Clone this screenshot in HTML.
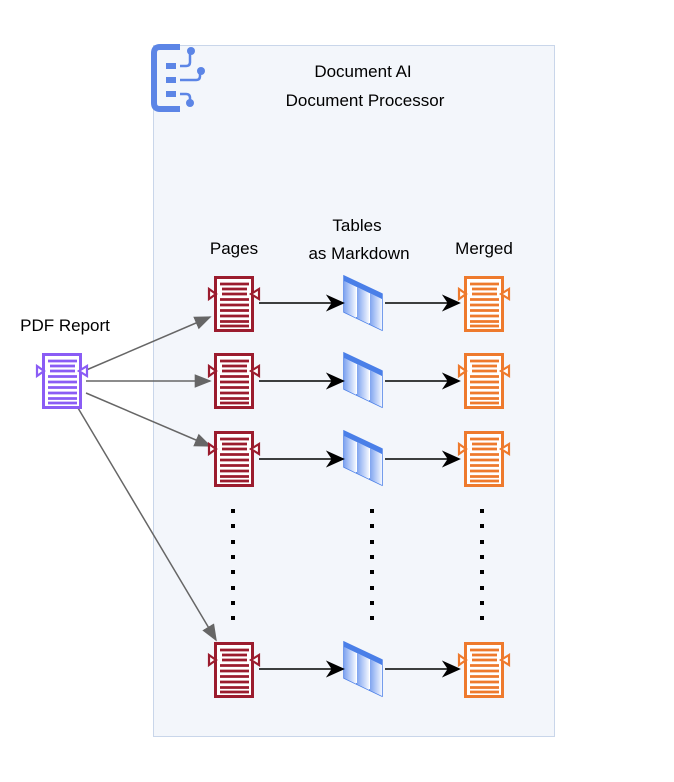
<!DOCTYPE html>
<html><head><meta charset="utf-8"><style>
html,body{margin:0;padding:0;background:#fff;}
svg{display:block;font-family:"Liberation Sans",Arial,sans-serif;}
</style></head><body>
<svg width="674" height="782" viewBox="0 0 674 782" xmlns="http://www.w3.org/2000/svg">
<defs>
<g id="doc">
<rect x="1.5" y="1.5" width="37" height="53" fill="#fff" stroke="currentColor" stroke-width="3"/>
<g stroke="currentColor" stroke-width="2.8">
<line x1="6" y1="8" x2="35" y2="8"/><line x1="8" y1="13" x2="33" y2="13"/><line x1="8" y1="18" x2="33" y2="18"/>
<line x1="6" y1="23.5" x2="35" y2="23.5"/><line x1="6" y1="29" x2="35" y2="29"/><line x1="6" y1="34.5" x2="35" y2="34.5"/>
<line x1="6" y1="40" x2="35" y2="40"/><line x1="6" y1="45.5" x2="35" y2="45.5"/><line x1="6" y1="50" x2="35" y2="50"/>
</g>
<polygon points="-5,13 -5,23 2,18" fill="#fff" stroke="currentColor" stroke-width="2.2"/>
<polygon points="45,13 45,23 37,18" fill="#fff" stroke="currentColor" stroke-width="2.2"/>
</g>
<linearGradient id="tg" x1="0" y1="0" x2="1" y2="0">
<stop offset="0" stop-color="#7fa4f0"/><stop offset="1" stop-color="#f2f6ff"/>
</linearGradient>
<g id="tbl">
<polygon points="0,0 38,18 38,54 0,36" fill="#fff" stroke="#4a7fe8" stroke-width="1.5"/>
<polygon points="0,5 12,10.7 12,41.7 0,36" fill="url(#tg)"/>
<polygon points="13,11.2 25,16.9 25,47.9 13,42.2" fill="url(#tg)"/>
<polygon points="26,17.4 38,23 38,54 26,48.4" fill="url(#tg)"/>
<polygon points="0,0 38,18 38,23 0,5" fill="#4a7fe8"/>
</g>
<marker id="ag" viewBox="0 0 10 10" refX="9" refY="5" markerWidth="17" markerHeight="17" markerUnits="userSpaceOnUse" orient="auto"><path d="M0,1 L10,5 L0,9 z" fill="#666"/></marker>
<marker id="abk" viewBox="0 0 10 10" refX="9" refY="5" markerWidth="19" markerHeight="19" markerUnits="userSpaceOnUse" orient="auto"><path d="M0,0.5 L10,5 L0,9.5 L3,5 z" fill="#000"/></marker>
</defs>

<rect x="153.5" y="45.5" width="401" height="691" fill="#f3f6fb" stroke="#c9d6ea" stroke-width="1"/>
<g fill="#5c85e6" stroke="#5c85e6">
<path d="M180,47 H160 Q154,47 154,53 V103 Q154,109 160,109 H180" fill="none" stroke-width="6"/>
<rect x="166" y="63" width="10" height="6" stroke="none"/>
<rect x="166" y="77" width="10" height="6" stroke="none"/>
<rect x="166" y="91" width="10" height="6" stroke="none"/>
<path d="M180,66 H186 Q190,66 190,62 V52" fill="none" stroke-width="2.5"/>
<circle cx="191" cy="51" r="4" stroke="none"/>
<path d="M180,80 H196 Q200,80 200,76 V72" fill="none" stroke-width="2.5"/>
<circle cx="201" cy="71" r="4" stroke="none"/>
<path d="M180,94 H186 Q190,94 190,98 V101" fill="none" stroke-width="2.5"/>
<circle cx="190" cy="103" r="4" stroke="none"/>
</g>

<g font-size="17" fill="#000" text-anchor="middle">
<text x="363" y="77">Document AI</text>
<text x="365" y="106">Document Processor</text>
<text x="234" y="254">Pages</text>
<text x="357" y="231">Tables</text>
<text x="359" y="259">as Markdown</text>
<text x="484" y="254">Merged</text>
<text x="65" y="331">PDF Report</text>
</g>

<g stroke="#666" stroke-width="1.5" fill="none">
<line x1="84" y1="371" x2="210" y2="317" marker-end="url(#ag)"/>
<line x1="86" y1="381" x2="210" y2="381" marker-end="url(#ag)"/>
<line x1="86" y1="393" x2="210" y2="446" marker-end="url(#ag)"/>
<line x1="78" y1="408" x2="216" y2="640" marker-end="url(#ag)"/>
</g>

<g style="color:#8a5cf5"><use href="#doc" x="42" y="353"/></g>
<g style="color:#9b1c2e">
<use href="#doc" x="214" y="276"/><use href="#doc" x="214" y="353"/><use href="#doc" x="214" y="431"/><use href="#doc" x="214" y="642"/>
</g>
<g style="color:#ee7a2d">
<use href="#doc" x="464" y="276"/><use href="#doc" x="464" y="353"/><use href="#doc" x="464" y="431"/><use href="#doc" x="464" y="642"/>
</g>
<use href="#tbl" x="344" y="276"/><use href="#tbl" x="344" y="353"/><use href="#tbl" x="344" y="431"/><use href="#tbl" x="344" y="642"/>

<g stroke="#000" stroke-width="1.5">
<line x1="259" y1="303" x2="343" y2="303" marker-end="url(#abk)"/>
<line x1="385" y1="303" x2="459" y2="303" marker-end="url(#abk)"/>
<line x1="259" y1="381" x2="343" y2="381" marker-end="url(#abk)"/>
<line x1="385" y1="381" x2="459" y2="381" marker-end="url(#abk)"/>
<line x1="259" y1="459" x2="343" y2="459" marker-end="url(#abk)"/>
<line x1="385" y1="459" x2="459" y2="459" marker-end="url(#abk)"/>
<line x1="259" y1="669" x2="343" y2="669" marker-end="url(#abk)"/>
<line x1="385" y1="669" x2="459" y2="669" marker-end="url(#abk)"/>
</g>

<g fill="#000">
<rect x="231" y="509" width="4" height="4"/><rect x="231" y="524" width="4" height="4"/><rect x="231" y="540" width="4" height="4"/><rect x="231" y="555" width="4" height="4"/><rect x="231" y="570" width="4" height="4"/><rect x="231" y="586" width="4" height="4"/><rect x="231" y="601" width="4" height="4"/><rect x="231" y="616" width="4" height="4"/>
<rect x="370" y="509" width="4" height="4"/><rect x="370" y="524" width="4" height="4"/><rect x="370" y="540" width="4" height="4"/><rect x="370" y="555" width="4" height="4"/><rect x="370" y="570" width="4" height="4"/><rect x="370" y="586" width="4" height="4"/><rect x="370" y="601" width="4" height="4"/><rect x="370" y="616" width="4" height="4"/>
<rect x="480" y="509" width="4" height="4"/><rect x="480" y="524" width="4" height="4"/><rect x="480" y="540" width="4" height="4"/><rect x="480" y="555" width="4" height="4"/><rect x="480" y="570" width="4" height="4"/><rect x="480" y="586" width="4" height="4"/><rect x="480" y="601" width="4" height="4"/><rect x="480" y="616" width="4" height="4"/>
</g>
</svg>
</body></html>
